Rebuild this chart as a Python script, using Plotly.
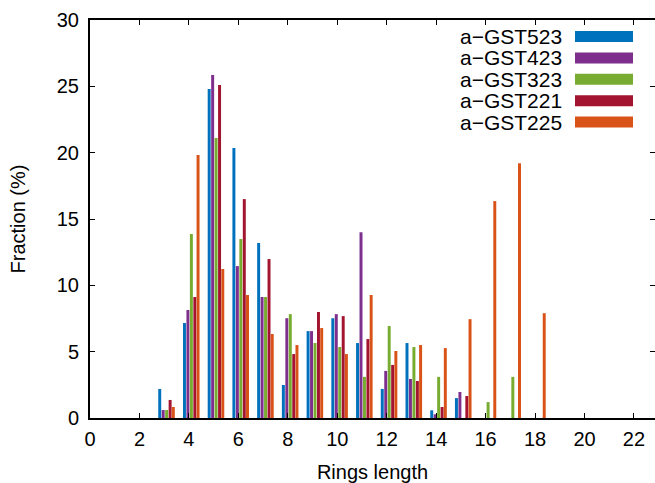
import plotly.graph_objects as go

# ---------------- data ----------------
rings = [3, 4, 5, 6, 7, 8, 9, 10, 11, 12, 13, 14, 15, 16, 17, 18]
series_names = ["a\u2212GST523", "a\u2212GST423", "a\u2212GST323", "a\u2212GST221", "a\u2212GST225"]
gst523 = [2.19, 7.16, 24.8, 20.35, 13.19, 2.49, 6.55, 7.52, 5.65, 2.19, 5.65, 0.58, 1.5, 0, 0, 0]
gst423 = [0.6, 8.14, 25.85, 11.45, 9.12, 7.52, 6.55, 7.83, 14.0, 3.55, 2.94, 0.28, 1.96, 0, 0, 0]
gst323 = [0.6, 13.87, 21.1, 13.49, 9.12, 7.83, 5.65, 5.35, 3.1, 6.93, 5.35, 3.1, 0, 1.2, 3.1, 0]
gst221 = [1.36, 9.12, 25.1, 16.5, 11.98, 4.82, 7.99, 7.68, 5.95, 4.0, 2.79, 0.83, 1.66, 0, 0, 0]
gst225 = [0.83, 19.82, 11.23, 9.27, 6.33, 5.5, 6.78, 4.82, 9.27, 5.05, 5.5, 5.27, 7.45, 16.35, 19.2, 7.9]
x_ticks = [0, 2, 4, 6, 8, 10, 12, 14, 16, 18, 20, 22]
y_ticks = [0, 5, 10, 15, 20, 25, 30]

# ---------------- style ----------------
colors = ["#0072BD", "#7E2F8E", "#77AC30", "#A2142F", "#D95319"]
bar_offsets = [-0.24, -0.10, 0.04, 0.18, 0.31]
bar_width = 0.12
FONT = "Liberation Sans, Arial, sans-serif"
W, H = 655, 483
ML, MR, MT, MB = 90, 0, 20, 65

fig = go.Figure()
for name, vals, col, off in zip(series_names, [gst523, gst423, gst323, gst221, gst225], colors, bar_offsets):
    fig.add_trace(go.Bar(
        x=rings, y=vals, name=name, width=bar_width, offset=off,
        marker=dict(color=col, line=dict(width=0)), showlegend=False,
    ))

# manual gnuplot-style key (text right, swatch on the right)
pw = W - ML - MR
ph = H - MT - MB
shapes = []
annotations = []
for i, (name, col) in enumerate(zip(series_names, colors)):
    yc = 36.5 + i * 21.4
    annotations.append(dict(
        xref="paper", yref="paper", x=(564 - ML) / pw, y=(H - MB - yc) / ph,
        xanchor="right", yanchor="middle", text=name, showarrow=False,
        font=dict(family=FONT, size=21, color="black"),
    ))
    shapes.append(dict(
        type="rect", xref="paper", yref="paper",
        x0=(575 - ML) / pw, x1=(633 - ML) / pw,
        y0=(H - MB - yc - 5.5) / ph, y1=(H - MB - yc + 5.5) / ph,
        fillcolor=col, line=dict(width=0),
    ))

fig.update_layout(
    width=W, height=H,
    margin=dict(l=ML, r=MR, t=MT, b=MB, pad=0, autoexpand=False),
    paper_bgcolor="white", plot_bgcolor="white",
    barmode="overlay",
    font=dict(family=FONT, size=20, color="black"),
    shapes=shapes, annotations=annotations,
    xaxis=dict(
        range=[0, 22.85], tickvals=x_ticks, ticktext=[str(v) for v in x_ticks],
        ticks="inside", ticklen=5, tickwidth=1, tickcolor="black",
        showline=True, linewidth=2, linecolor="black", mirror="ticks",
        showgrid=False, zeroline=False, automargin=False,
        tickfont=dict(family=FONT, size=20), ticklabelstandoff=2,
        title=dict(text="Rings length", font=dict(family=FONT, size=20), standoff=16),
    ),
    yaxis=dict(
        range=[0, 30], tickvals=y_ticks, ticktext=[str(v) for v in y_ticks],
        ticks="inside", ticklen=5, tickwidth=1, tickcolor="black",
        showline=True, linewidth=2, linecolor="black", mirror="ticks",
        showgrid=False, zeroline=False, automargin=False,
        tickfont=dict(family=FONT, size=20), ticklabelstandoff=5,
        title=dict(text="Fraction (%)", font=dict(family=FONT, size=20), standoff=26),
    ),
)

fig.write_html("out.html", config={"displayModeBar": False},
               post_script="document.body.style.margin='0';")
